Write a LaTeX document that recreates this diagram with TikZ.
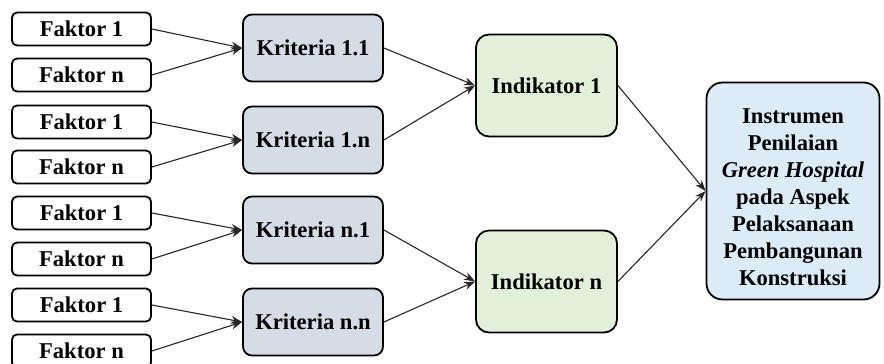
\documentclass[tikz,border=0pt]{standalone}
\usepackage{fontspec}
\setmainfont{Liberation Serif}
\usetikzlibrary{arrows.meta}
\definecolor{krit}{HTML}{D6DCE5}
\definecolor{indi}{HTML}{E2EFDA}
\definecolor{inst}{HTML}{DDEBF7}
\tikzset{
  box/.style={draw=black, line width=1.8pt, align=center, inner sep=2pt,
    font=\fontsize{22.6}{27}\selectfont\bfseries},
  faktor/.style={box, fill=white, rounded corners=5pt, minimum width=139pt, minimum height=33pt},
  kriteria/.style={box, fill=krit, rounded corners=9pt, minimum width=140pt, minimum height=67pt},
  indikator/.style={box, fill=indi, rounded corners=13pt, minimum width=141pt, minimum height=102pt},
  instrumen/.style={box, fill=inst, rounded corners=16pt, minimum width=173pt, minimum height=217pt},
  conn/.style={draw=black!85, line width=1.1pt, -{Stealth[length=11pt,width=8pt]}}
}
\begin{document}
\begin{tikzpicture}[x=1pt,y=-1pt]
\useasboundingbox (0,0) rectangle (884,364);
% Faktor boxes
\node[faktor] (f1) at (81.5,29) {Faktor 1};
\node[faktor] (f2) at (81.5,75) {Faktor n};
\node[faktor] (f3) at (81.5,122) {Faktor 1};
\node[faktor] (f4) at (81.5,167) {Faktor n};
\node[faktor] (f5) at (81.5,213) {Faktor 1};
\node[faktor] (f6) at (81.5,259) {Faktor n};
\node[faktor] (f7) at (81.5,305) {Faktor 1};
\node[faktor] (f8) at (81.5,351) {Faktor n};
% Kriteria
\node[kriteria] (k1) at (313,48) {Kriteria 1.1};
\node[kriteria] (k2) at (313,140) {Kriteria 1.n};
\node[kriteria] (k3) at (313,230) {Kriteria n.1};
\node[kriteria] (k4) at (313,322) {Kriteria n.n};
% Indikator
\node[indikator] (i1) at (546.5,85.5) {Indikator 1};
\node[indikator] (i2) at (546.5,281.5) {Indikator n};
% Instrumen
\node[instrumen] (ins) at (793,191) {\raisebox{-8pt}[\height][\depth]{\begin{tabular}{@{}c@{}}Instrumen\\Penilaian\\\textit{Green Hospital}\\pada Aspek\\Pelaksanaan\\Pembangunan\\Konstruksi\end{tabular}}};
% connectors
\draw[conn] (f1.east) -- (k1.west);
\draw[conn] (f2.east) -- (k1.west);
\draw[conn] (f3.east) -- (k2.west);
\draw[conn] (f4.east) -- (k2.west);
\draw[conn] (f5.east) -- (k3.west);
\draw[conn] (f6.east) -- (k3.west);
\draw[conn] (f7.east) -- (k4.west);
\draw[conn] (f8.east) -- (k4.west);
\draw[conn] (k1.east) -- (i1.west);
\draw[conn] (k2.east) -- (i1.west);
\draw[conn] (k3.east) -- (i2.west);
\draw[conn] (k4.east) -- (i2.west);
\draw[conn] (i1.east) -- (ins.west);
\draw[conn] (i2.east) -- (ins.west);
\end{tikzpicture}
\end{document}
